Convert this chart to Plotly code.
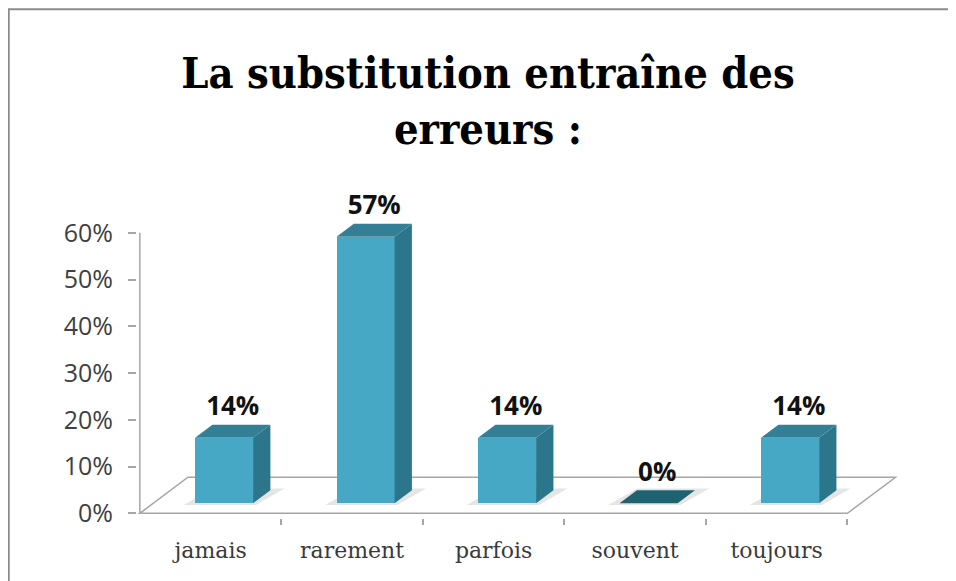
import plotly.graph_objects as go

# --- data ---
categories = ["jamais", "rarement", "parfois", "souvent", "toujours"]
shares = [0.14, 0.57, 0.14, 0.0, 0.14]
y_ticks = [0.0, 0.1, 0.2, 0.3, 0.4, 0.5, 0.6]

# --- fake 3D projection (oblique), in axis units ---
DEPTH_X = 0.34     # x shift for the full floor depth
DEPTH_Y = 0.0771   # y shift for the full floor depth
Z_FRONT, Z_BACK = 0.28, 0.64
HALF_W = 0.205

FRONT = "#46a8c4"
SIDE = "#2c768b"
TOP = "#327f96"
FLAT = "#1f6370"
EDGE = "#a6a6a6"

n = len(categories)
ddx = (Z_BACK - Z_FRONT) * DEPTH_X
ddy = (Z_BACK - Z_FRONT) * DEPTH_Y
base = Z_FRONT * DEPTH_Y
xc = [i + Z_FRONT * DEPTH_X for i in range(n)]


def poly(xs, ys):
    return "M" + "L".join(f"{x},{y}" for x, y in zip(xs, ys)) + "Z"


fig = go.Figure()

# floor (shape below the traces so the bars sit on it)
fig.add_shape(type="path", xref="x", yref="y", layer="below",
              path=poly([-0.5, n - 0.5, n - 0.5 + DEPTH_X, -0.5 + DEPTH_X], [0, 0, DEPTH_Y, DEPTH_Y]),
              fillcolor="white", line=dict(color=EDGE, width=1.5))
# soft shadows
for c in xc:
    fig.add_shape(type="path", xref="x", yref="y", layer="below",
                  path=poly([c - HALF_W - 0.08, c + HALF_W + 0.02, c + HALF_W + ddx + 0.1, c - HALF_W + ddx],
                            [base - 0.004, base - 0.004, base + ddy + 0.004, base + ddy + 0.004]),
                  fillcolor="rgba(0,0,0,0.10)", line=dict(width=0))
# y axis line
fig.add_shape(type="line", xref="x", yref="y", layer="below", x0=-0.5, x1=-0.5, y0=0, y1=y_ticks[-1],
              line=dict(color=EDGE, width=1.5))

# front faces
fig.add_trace(go.Bar(x=xc, y=shares, base=[base] * n, width=2 * HALF_W,
                     marker=dict(color=FRONT, line=dict(width=0)), hoverinfo="skip"))

# side and top faces
for c, v in zip(xc, shares):
    top = base + v
    if v > 0:
        px = [c + HALF_W, c + HALF_W, c + HALF_W + ddx, c + HALF_W + ddx, c + HALF_W]
        py = [base, top, top + ddy, base + ddy, base]
        fig.add_trace(go.Scatter(x=px, y=py, mode="lines", fill="toself", fillcolor=SIDE,
                                 line=dict(width=0), hoverinfo="skip"))
    tx = [c - HALF_W, c + HALF_W, c + HALF_W + ddx, c - HALF_W + ddx, c - HALF_W]
    ty = [top, top, top + ddy, top + ddy, top]
    fig.add_trace(go.Scatter(x=tx, y=ty, mode="lines", fill="toself",
                             fillcolor=TOP if v > 0 else FLAT,
                             line=dict(width=0), hoverinfo="skip"))

# data labels
fig.add_trace(go.Scatter(
    x=[c + ddx / 2 for c in xc], y=[base + v + ddy + 0.006 for v in shares],
    mode="text", text=[f"{v:.0%}" for v in shares], textposition="top center",
    textfont=dict(family="Open Sans", size=26, color="#111111", weight="bold"),
    cliponaxis=False, hoverinfo="skip"))

# tick marks at category boundaries (second x axis)
fig.add_trace(go.Scatter(x=[-0.5], y=[0], xaxis="x2", mode="markers",
                         marker=dict(opacity=0), hoverinfo="skip"))

# layout in page pixels; the page body adds an 8 px offset
OFF = 8
W, H = 956 - OFF, 581 - OFF
PX_X, PX_Y = 141.4, 466.7
x_range = [-0.52, 4.9]
y_range = [-0.01, 0.70]
L = 140 - (-0.5 - x_range[0]) * PX_X - OFF
plot_w = (x_range[1] - x_range[0]) * PX_X
T = 513 - y_range[1] * PX_Y - OFF
plot_h = (y_range[1] - y_range[0]) * PX_Y
B = H - T - plot_h
R = W - L - plot_w


def paper_x(p):
    return (p - OFF - L) / plot_w


def paper_y(p):
    return (H - B - (p - OFF)) / plot_h


# outer chart frame
fig.add_shape(type="rect", xref="paper", yref="paper",
              x0=paper_x(9), x1=paper_x(955), y0=paper_y(620), y1=paper_y(10),
              line=dict(color="#8a8a8a", width=2), fillcolor="rgba(0,0,0,0)", layer="below")

fig.update_layout(
    template="none",
    width=W, height=H,
    margin=dict(l=L, r=R, t=T, b=B, autoexpand=False),
    paper_bgcolor="white", plot_bgcolor="rgba(0,0,0,0)",
    showlegend=False,
    title=dict(text="La substitution entraîne des<br>erreurs :",
               x=(488 - OFF) / W, xanchor="center", y=1 - 80 / H, yanchor="middle",
               xref="container", yref="container",
               font=dict(family="DejaVu Serif Condensed, DejaVu Serif", size=43,
                         color="#000000", weight="bold")),
    xaxis=dict(range=x_range, tickvals=list(range(n)), ticktext=categories,
               ticks="", showgrid=False, zeroline=False, showline=False,
               automargin=False, ticklabelstandoff=17,
               tickfont=dict(family="DejaVu Serif", size=22, color="#3a3a3a")),
    xaxis2=dict(range=x_range, overlaying="x", side="bottom", automargin=False,
                tickvals=[i + 0.5 for i in range(n)], showticklabels=False,
                ticks="outside", ticklen=6, tickcolor=EDGE, tickwidth=1.5,
                showgrid=False, zeroline=False, showline=False),
    yaxis=dict(range=y_range, tickvals=y_ticks, tickformat=".0%", automargin=False,
               ticks="outside", ticklen=8, tickcolor=EDGE, tickwidth=1.5,
               ticklabelstandoff=10,
               showgrid=False, zeroline=False, showline=False,
               tickfont=dict(family="Open Sans", size=25, color="#404040")),
    bargap=0,
)

fig.write_html("out.html")
